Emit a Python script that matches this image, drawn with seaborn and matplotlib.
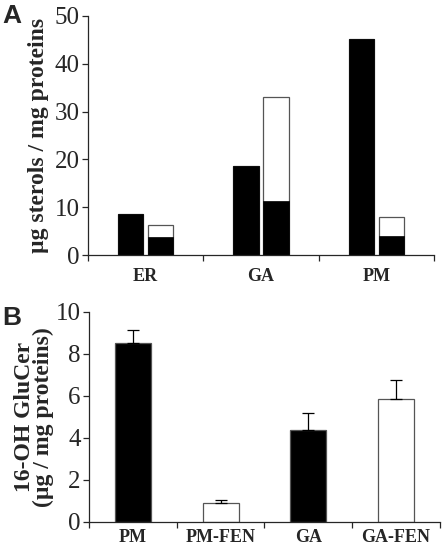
import numpy as np
import pandas as pd
import seaborn as sns
import matplotlib.pyplot as plt

# Panel A: sterol content per compartment
compartments = ["ER", "GA", "PM"]
ctrl_sterols = [8.5, 18.7, 45.2]
fen_total = [6.3, 33.0, 7.9]
fen_black = [3.7, 11.2, 4.0]

# Panel B: 16-OH GluCer
fractions = ["PM", "PM-FEN", "GA", "GA-FEN"]
glucer = [8.5, 0.87, 4.35, 5.84]
glucer_err = [0.66, 0.15, 0.82, 0.92]
glucer_colors = ["black", "white", "black", "white"]

sns.set_style("ticks")
plt.rcParams["font.family"] = ["Liberation Serif", "DejaVu Serif"]

fig = plt.figure(figsize=(4.42, 5.49), dpi=100)
axA = fig.add_axes([0.199, 0.5355, 0.783, 0.4355])
axB = fig.add_axes([0.2015, 0.0497, 0.7935, 0.382])

# --- A ---
dfA = pd.DataFrame({
    "comp": compartments * 2,
    "group": ["ctrl"] * 3 + ["fen"] * 3,
    "top": ctrl_sterols + fen_total,
    "bottom": ctrl_sterols + fen_black,
})
sns.barplot(data=dfA, x="comp", y="top", hue="group", ax=axA,
            palette={"ctrl": "black", "fen": "white"}, width=0.52, gap=0.15,
            edgecolor="#555555", linewidth=0.9, legend=False)
sns.barplot(data=dfA, x="comp", y="bottom", hue="group", ax=axA,
            palette={"ctrl": "black", "fen": "black"}, width=0.52, gap=0.15,
            edgecolor="black", linewidth=0.5, legend=False)
axA.set_ylim(0, 50)
axA.set_xlim(-0.5, 2.5)
axA.set_yticks(range(0, 51, 10))
axA.set_ylabel("µg sterols / mg proteins", fontsize=17, fontweight="bold", labelpad=4)
axA.set_xlabel("")

# --- B ---
dfB = pd.DataFrame({"frac": fractions, "val": glucer})
sns.barplot(data=dfB, x="frac", y="val", hue="frac", ax=axB,
            palette=dict(zip(fractions, glucer_colors)), width=0.41,
            edgecolor="#555555", linewidth=0.9, legend=False)
axB.errorbar(np.arange(len(fractions)), glucer,
             yerr=[np.zeros(len(glucer)), glucer_err],
             fmt="none", ecolor="black", elinewidth=0.9, capsize=4, capthick=0.9)
axB.set_ylim(0, 10)
axB.set_xlim(-0.5, 3.5)
axB.set_yticks(range(0, 11, 2))
axB.set_ylabel("16-OH GluCer\n(µg / mg proteins)", fontsize=17, fontweight="bold",
               labelpad=1, linespacing=0.9)
axB.set_xlabel("")

for ax, n, pad in [(axA, 3, 9), (axB, 4, 5)]:
    sns.despine(ax=ax)
    ax.spines["left"].set_linewidth(0.9)
    ax.spines["bottom"].set_linewidth(0.9)
    ax.tick_params(axis="y", labelsize=18, length=4, width=0.9, direction="out", pad=2)
    ax.tick_params(axis="x", which="major", length=0, labelsize=13, pad=pad)
    ax.set_xticks(np.arange(-0.5, n, 1.0), minor=True)
    ax.tick_params(axis="x", which="minor", length=4, width=0.9, direction="out")
    for t in ax.get_xticklabels():
        t.set_fontweight("bold")

fig.text(0.005, 0.993, "A", fontsize=19, fontweight="bold", family="Liberation Sans", va="top")
fig.text(0.005, 0.442, "B", fontsize=19, fontweight="bold", family="Liberation Sans", va="top")

fig.savefig("out.png", dpi=100)
